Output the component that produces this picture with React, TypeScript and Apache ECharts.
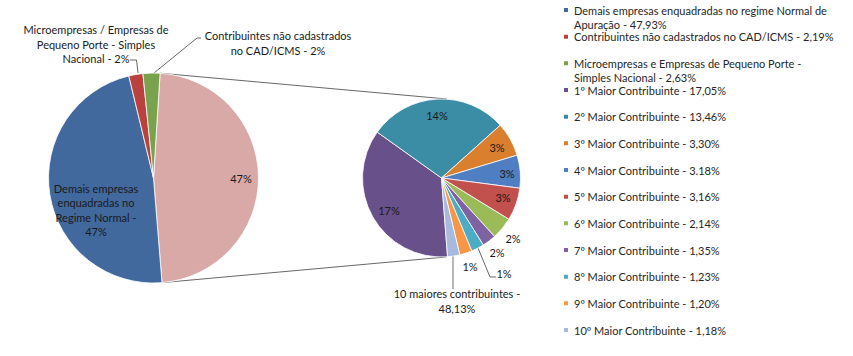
import React, { useEffect, useRef } from "react";
import * as echarts from "echarts";

// ---- data ----
const leftCategories = [
  "10 maiores contribuintes",
  "Demais empresas enquadradas no regime Normal de Apuração",
  "Contribuintes não cadastrados no CAD/ICMS",
  "Microempresas e Empresas de Pequeno Porte - Simples Nacional",
];
const leftValues = [48.13, 47.93, 2.19, 2.63];
const leftLabels = [
  "47%",
  "Demais empresas\nenquadradas no\nRegime Normal -\n47%",
  "Microempresas / Empresas de\nPequeno Porte - Simples\nNacional - 2%",
  "Contribuintes não cadastrados\nno CAD/ICMS - 2%",
];

const rightCategories = [
  "1º Maior Contribuinte",
  "2º Maior Contribuinte",
  "3º Maior Contribuinte",
  "4º Maior Contribuinte",
  "5º Maior Contribuinte",
  "6º Maior Contribuinte",
  "7º Maior Contribuinte",
  "8º Maior Contribuinte",
  "9º Maior Contribuinte",
  "10º Maior Contribuinte",
];
const rightValues = [17.05, 13.46, 3.3, 3.18, 3.16, 2.14, 1.35, 1.23, 1.2, 1.18];
const rightLabels = ["17%", "14%", "3%", "3%", "3%", "2%", "2%", "1%", "1%", "10 maiores contribuintes -\n48,13%"];

const legendCategories = [
  "Demais empresas enquadradas no regime Normal de Apuração",
  "Contribuintes não cadastrados no CAD/ICMS",
  "Microempresas e Empresas de Pequeno Porte - Simples Nacional",
  ...rightCategories,
];
const legendLabels = [
  "Demais empresas enquadradas no regime Normal de\nApuração - 47,93%",
  "Contribuintes não cadastrados no CAD/ICMS - 2,19%",
  "Microempresas e Empresas de Pequeno Porte -\nSimples Nacional - 2,63%",
  "1º Maior Contribuinte - 17,05%",
  "2º Maior Contribuinte - 13,46%",
  "3º Maior Contribuinte - 3,30%",
  "4º Maior Contribuinte - 3.18%",
  "5º Maior Contribuinte - 3,16%",
  "6º Maior Contribuinte - 2,14%",
  "7º Maior Contribuinte - 1,35%",
  "8º Maior Contribuinte - 1,23%",
  "9º Maior Contribuinte - 1,20%",
  "10º Maior Contribuinte - 1,18%",
];

// ---- styles / layout ----
const leftColors = ["#D9A9A8", "#41699E", "#B9423F", "#78A24B"];
const rightColors = ["#68508A", "#3A8DA4", "#DA7F2E", "#4F7EC2", "#C2504D", "#9BBB59", "#7F62A1", "#4BACC6", "#F79646", "#A7B9DC"];
const FONT = "Lato";
const TEXT = "#1a1a1a";
const LEFT = { cx: 153.5, cy: 178, r: 105, start: 86.4 };
const RIGHT = { cx: 441.5, cy: 178, r: 79, start: 274.4 };

// label placements (center x, y)
const leftLabelPos: [number, number][] = [
  [241, 178],
  [96, 210],
  [96, 44],
  [278, 43],
];
const leftLeaders: ([number, number][] | null)[] = [
  null,
  null,
  [[130, 60], [136.5, 60], [138, 73]],
  [[201, 38], [197, 38], [154, 73]],
];
const rightLabelPos: [number, number][] = [
  [389, 210],
  [437, 115],
  [497, 147],
  [507, 173],
  [503, 197],
  [513, 238],
  [497, 252],
  [504, 273],
  [470, 266],
  [457, 301],
];
const rightLeaders: ([number, number][] | null)[] = [
  null, null, null, null, null, null, null,
  [[478, 248], [490, 277], [496, 277]],
  null,
  [[453, 256], [453, 271], [453, 289]],
];

function App() {
  const ref = useRef<HTMLDivElement>(null);
  useEffect(() => {
    if (!ref.current) return;
    const chart = echarts.init(ref.current, null, { renderer: "svg" });

    const toRad = (d: number) => (d * Math.PI) / 180;
    const total = leftValues.reduce((a, b) => a + b, 0);
    const otherSweep = (leftValues[0] / total) * 360;
    const a0 = 90 - LEFT.start;
    const a1 = a0 + otherSweep;
    const p0 = [LEFT.cx + LEFT.r * Math.sin(toRad(a0)), LEFT.cy - LEFT.r * Math.cos(toRad(a0))];
    const p1 = [LEFT.cx + LEFT.r * Math.sin(toRad(a1)), LEFT.cy - LEFT.r * Math.cos(toRad(a1))];
    const q0 = [RIGHT.cx + 5.5, RIGHT.cy - RIGHT.r];
    const q1 = [RIGHT.cx + 4.5, RIGHT.cy + RIGHT.r];

    const leftData = leftCategories.map((name, i) => ({
      name,
      value: leftValues[i],
      itemStyle: { color: leftColors[i] },
      label: leftLeaders[i]
        ? { position: "outside", formatter: leftLabels[i], overflow: "none" }
        : { position: "inside", formatter: leftLabels[i] },
      labelLine: { show: !!leftLeaders[i] },
    }));
    const rightData = rightCategories.map((name, i) => ({
      name,
      value: rightValues[i],
      itemStyle: { color: rightColors[i] },
      label: rightLeaders[i]
        ? { position: "outside", formatter: rightLabels[i], overflow: "none" }
        : { position: "inside", formatter: rightLabels[i] },
      labelLine: {
        show: !!rightLeaders[i],
        lineStyle: { color: i === 9 ? "#A0A0A0" : "#404040", width: i === 9 ? 1.5 : 0.8 },
      },
    }));

    const LH = 14.5;
    const legends = legendCategories.map((name, i) => {
      const two = legendLabels[i].includes("\n");
      const yc = 10 + i * 26.67;
      return {
        data: [name],
        left: 562,
        // two-line items get a blank leading line so the marker lines up with the first text line
        top: two ? yc - 1.5 * LH : yc - LH / 2,
        orient: "vertical",
        padding: 0,
        itemGap: 0,
        itemWidth: 6,
        itemHeight: 6,
        icon: "rect",
        selectedMode: false,
        formatter: () => (two ? "\n" + legendLabels[i] : legendLabels[i]),
        textStyle: {
          fontFamily: FONT,
          fontSize: 11,
          color: "#262626",
          lineHeight: LH,
        },
      };
    });

    const labelStyle = { fontFamily: FONT, fontSize: 11, color: TEXT, lineHeight: 14.6, align: "center" };

    chart.setOption({
      animation: false,
      backgroundColor: "#ffffff",
      legend: legends,
      graphic: [
        { type: "line", shape: { x1: p0[0], y1: p0[1], x2: q0[0], y2: q0[1] }, style: { stroke: "#404040", lineWidth: 0.8 }, z: 1 },
        { type: "line", shape: { x1: p1[0], y1: p1[1], x2: q1[0], y2: q1[1] }, style: { stroke: "#404040", lineWidth: 0.8 }, z: 1 },
      ],
      series: [
        {
          type: "pie",
          center: [LEFT.cx, LEFT.cy],
          radius: [0, LEFT.r],
          startAngle: LEFT.start,
          clockwise: true,
          avoidLabelOverlap: false,
          itemStyle: { borderColor: "#ffffff", borderWidth: 0.8 },
          label: labelStyle,
          labelLine: { lineStyle: { color: "#404040", width: 0.8 } },
          labelLayout: (p: any) => {
            const [x, y] = leftLabelPos[p.dataIndex];
            const out: any = { x, y, align: "center", verticalAlign: "middle" };
            if (leftLeaders[p.dataIndex]) out.labelLinePoints = leftLeaders[p.dataIndex];
            return out;
          },
          data: leftData,
          z: 2,
        },
        {
          type: "pie",
          center: [RIGHT.cx, RIGHT.cy],
          radius: [0, RIGHT.r],
          startAngle: RIGHT.start,
          clockwise: true,
          avoidLabelOverlap: false,
          itemStyle: { borderColor: "#ffffff", borderWidth: 0.8 },
          label: labelStyle,
          labelLine: { lineStyle: { color: "#404040", width: 0.8 } },
          labelLayout: (p: any) => {
            const [x, y] = rightLabelPos[p.dataIndex];
            const out: any = { x, y, align: "center", verticalAlign: "middle" };
            if (rightLeaders[p.dataIndex]) out.labelLinePoints = rightLeaders[p.dataIndex];
            return out;
          },
          data: rightData,
          z: 2,
        },
      ],
    });
    return () => chart.dispose();
  }, []);
  return (
    <div
      ref={ref}
      style={{ position: "absolute", left: 0, top: 0, width: 853, height: 356, background: "#fff" }}
    />
  );
}

export default App;
